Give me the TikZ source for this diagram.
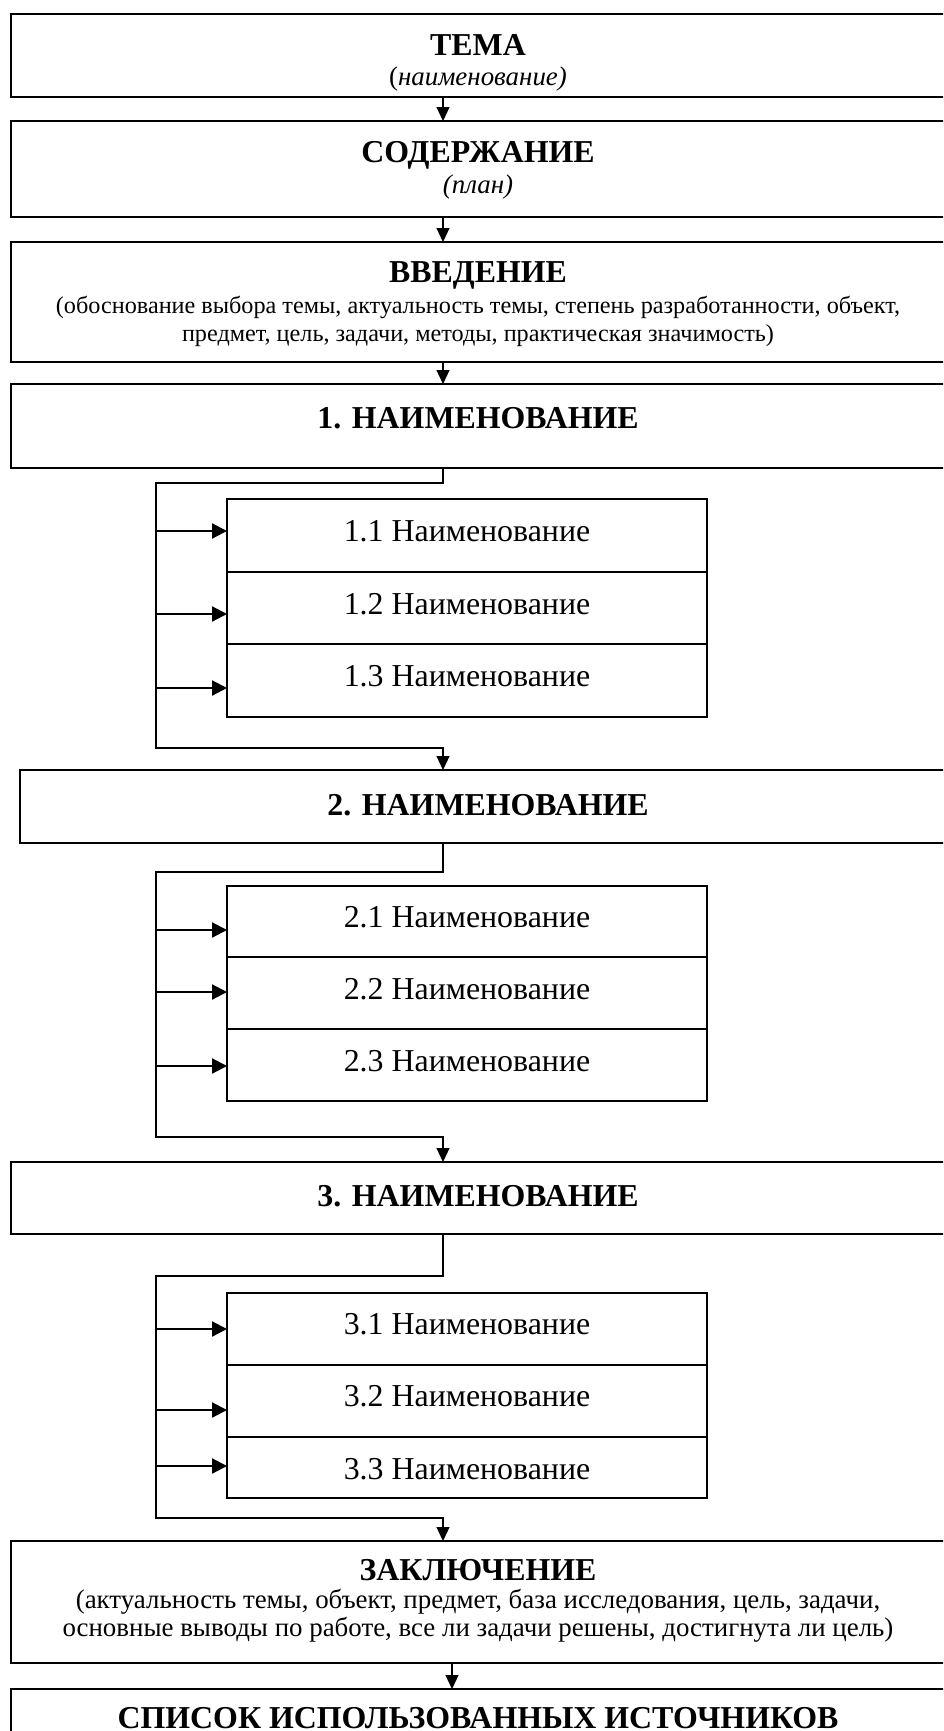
\documentclass[tikz,border=0pt]{standalone}
\usepackage{fontspec}
\setmainfont{Liberation Serif}
\usetikzlibrary{arrows.meta}
\begin{document}
\begin{tikzpicture}[x=1bp,y=-1bp,
  mainbox/.style={draw,line width=1.8bp,rectangle,anchor=north west,inner sep=0pt,outer sep=0pt},
  subbox/.style={draw,line width=1.5bp,rectangle,anchor=north west,inner sep=0pt,outer sep=0pt,minimum width=480bp},
  head/.style={font=\fontsize{32}{36}\selectfont\bfseries,anchor=base,inner sep=0pt},
  desc/.style={font=\fontsize{27}{30}\selectfont,anchor=base,inner sep=0pt},
  descsmall/.style={font=\fontsize{24.3}{28}\selectfont,anchor=base,inner sep=0pt},
  subtext/.style={font=\fontsize{32}{36}\selectfont,anchor=base,inner sep=0pt},
  link/.style={line width=1.1bp},
  arr/.style={line width=1.1bp,-{Triangle[width=13bp,length=14bp]}},
  stub/.style={line width=2.2bp,-{Triangle[width=15bp,length=15bp]}},
]
\useasboundingbox (0,0) rectangle (943,1731);
\clip (0,0) rectangle (943,1731);

% main boxes
\node[mainbox,minimum width=935bp,minimum height=83bp] (tema) at (11,14) {};
\node[mainbox,minimum width=935bp,minimum height=96bp] (sod) at (11,121) {};
\node[mainbox,minimum width=935bp,minimum height=120bp] (vved) at (11,242) {};
\node[mainbox,minimum width=935bp,minimum height=84bp] (r1) at (11,384) {};
\node[mainbox,minimum width=936bp,minimum height=73bp] (r2) at (20,770) {};
\node[mainbox,minimum width=935bp,minimum height=72bp] (r3) at (11,1162) {};
\node[mainbox,minimum width=935bp,minimum height=122bp] (zakl) at (11,1541) {};
\node[mainbox,minimum width=935bp,minimum height=100bp] (spis) at (11,1689) {};

% texts of main boxes
\node[head] (tTema) at (478,55) {ТЕМА};
\node[desc] (tTema2) at (478,85) {(\textit{наименование)}};
\node[head] (tSod) at (478,162) {СОДЕРЖАНИЕ};
\node[desc] (tSod2) at (478,193) {\textit{(план)}};
\node[head] (tVved) at (478,282) {ВВЕДЕНИЕ};
\node[descsmall] (tVved1) at (478,313) {(обоснование выбора темы, актуальность темы, степень разработанности, объект,};
\node[descsmall] (tVved2) at (478,341) {предмет, цель, задачи, методы, практическая значимость)};
\node[head] (tR1) at (478,428) {1. НАИМЕНОВАНИЕ};
\node[head] (tR2) at (488,815) {2. НАИМЕНОВАНИЕ};
\node[head] (tR3) at (478,1206) {3. НАИМЕНОВАНИЕ};
\node[head] (tZakl) at (478,1580) {ЗАКЛЮЧЕНИЕ};
\node[desc] (tZakl1) at (478,1608) {(актуальность темы, объект, предмет, база исследования, цель, задачи,};
\node[desc] (tZakl2) at (478,1636) {основные выводы по работе, все ли задачи решены, достигнута ли цель)};
\node[head] (tSpis) at (478,1728) {СПИСОК ИСПОЛЬЗОВАННЫХ ИСТОЧНИКОВ};

% sub boxes
\node[subbox,minimum height=73bp] (s11) at (227,499) {};
\node[subbox,minimum height=72bp] (s12) at (227,572) {};
\node[subbox,minimum height=73bp] (s13) at (227,644) {};
\node[subbox,minimum height=71bp] (s21) at (227,886) {};
\node[subbox,minimum height=72bp] (s22) at (227,957) {};
\node[subbox,minimum height=72bp] (s23) at (227,1029) {};
\node[subbox,minimum height=72bp] (s31) at (227,1293) {};
\node[subbox,minimum height=72bp] (s32) at (227,1365) {};
\node[subbox,minimum height=61bp] (s33) at (227,1437) {};

\node[subtext] (t11) at (467,541) {1.1 Наименование};
\node[subtext] (t12) at (467,614) {1.2 Наименование};
\node[subtext] (t13) at (467,686) {1.3 Наименование};
\node[subtext] (t21) at (467,927) {2.1 Наименование};
\node[subtext] (t22) at (467,999) {2.2 Наименование};
\node[subtext] (t23) at (467,1071) {2.3 Наименование};
\node[subtext] (t31) at (467,1334) {3.1 Наименование};
\node[subtext] (t32) at (467,1406) {3.2 Наименование};
\node[subtext] (t33) at (467,1479) {3.3 Наименование};

% coordinates
\coordinate (ax) at (443,0);
\coordinate (ax2) at (452,0);
\coordinate (k1) at (156,483);
\coordinate (k1b) at (156,748);
\coordinate (k2) at (156,872);
\coordinate (k2b) at (156,1137);
\coordinate (k3) at (156,1276);
\coordinate (k3b) at (156,1518);
\coordinate (b11) at (156,531);
\coordinate (b12) at (156,614);
\coordinate (b13) at (156,688);
\coordinate (b21) at (156,930);
\coordinate (b22) at (156,992);
\coordinate (b23) at (156,1066);
\coordinate (b31) at (156,1329);
\coordinate (b32) at (156,1410);
\coordinate (b33) at (156,1466);

% straight arrows
\draw[arr] (tema.south -| ax) -- (sod.north -| ax);
\draw[arr] (sod.south -| ax) -- (vved.north -| ax);
\draw[arr] (vved.south -| ax) -- (r1.north -| ax);
\draw[arr] (zakl.south -| ax2) -- (spis.north -| ax2);

% buses
\draw[arr] (r1.south -| ax) |- (k1) -- (k1b) -| (r2.north -| ax);
\draw[arr] (r2.south -| ax) |- (k2) -- (k2b) -| (r3.north -| ax);
\draw[arr] (r3.south -| ax) |- (k3) -- (k3b) -| (zakl.north -| ax);

% stubs
\foreach \b/\s in {b11/s11,b12/s12,b13/s13,b21/s21,b22/s22,b23/s23,b31/s31,b32/s32,b33/s33}
  \draw[stub] (\b) -- (\b -| \s.west);
\end{tikzpicture}
\end{document}
